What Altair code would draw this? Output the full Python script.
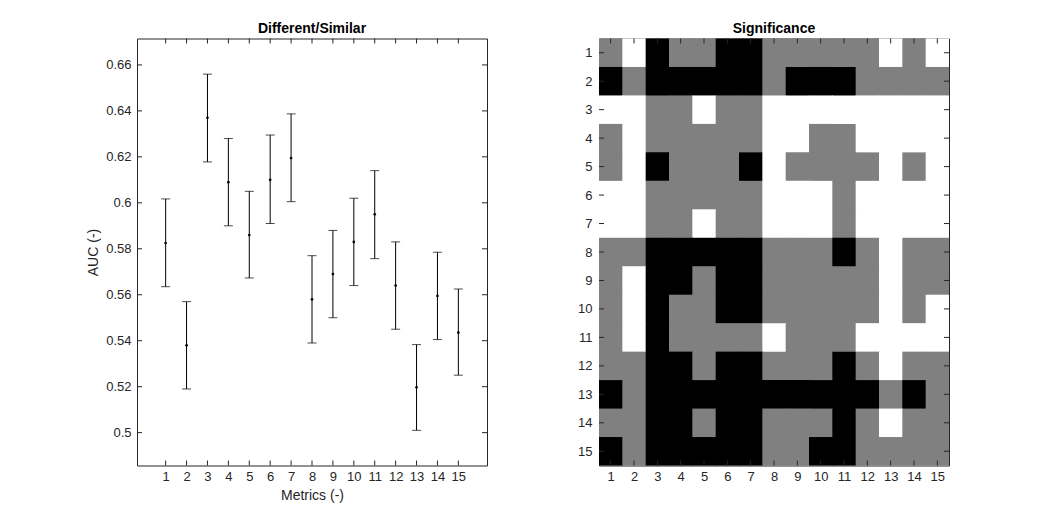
import altair as alt
import pandas as pd

# ---- data: left panel (AUC per metric, with error bars) ----
metrics = list(range(1, 16))
auc_mean = [0.5825, 0.538, 0.637, 0.609, 0.586, 0.610, 0.6195, 0.558,
            0.569, 0.583, 0.595, 0.564, 0.5197, 0.5595, 0.5435]
auc_low = [0.5635, 0.519, 0.6178, 0.590, 0.5673, 0.591, 0.6005, 0.539,
           0.550, 0.564, 0.5757, 0.545, 0.501, 0.5405, 0.525]
auc_high = [0.6017, 0.557, 0.656, 0.628, 0.605, 0.6295, 0.6387, 0.577,
            0.588, 0.602, 0.614, 0.583, 0.5383, 0.5785, 0.5625]
y_ticks = [0.5, 0.52, 0.54, 0.56, 0.58, 0.6, 0.62, 0.64, 0.66]

# ---- data: right panel (significance matrix, W=white, G=gray, B=black) ----
sig_rows = [
    "GWBGGBBGGGGGWGW",
    "BGBBBBBGBBBGGGG",
    "WWGGWGGWWWWWWWW",
    "GWGGGGGWWGGWWWW",
    "GWBGGGBWGGGGWGW",
    "WWGGGGGWWWGWWWW",
    "WWGGWGGWWWGWWWW",
    "GGBBBBBGGGBGWGG",
    "GWBBGBBGGGGGWGG",
    "GWBGGBBGGGGGWGW",
    "GWBGGGGWGGGWWWW",
    "GGBBGBBGGGBGWGG",
    "BGBBBBBBBBBBGBG",
    "GGBBGBBGGGBGWGG",
    "BGBBBBBGGBBGGGG",
]

W, H = 350, 427
FONT = "Liberation Sans"
AX = "#262626"

auc_df = pd.DataFrame({"metric": metrics, "mean": auc_mean, "low": auc_low, "high": auc_high})
xt_df = pd.DataFrame({"t": metrics})
yt_df = pd.DataFrame({"t": y_ticks})

xs = alt.Scale(domain=[-0.37, 16.37], nice=False, zero=False)
ys = alt.Scale(domain=[0.4857, 0.6715], nice=False, zero=False)

x_axis = alt.Axis(values=metrics, ticks=False, domain=False, grid=False, labelPadding=5,
                  title="Metrics (-)", titlePadding=5, labelFlush=False, labelOverlap=False)
y_axis = alt.Axis(values=y_ticks, ticks=False, domain=False, grid=False, labelPadding=6,
                  title="AUC (-)", titlePadding=5, format="~g", labelOverlap=False)

base = alt.Chart(auc_df)
bars = base.mark_rule(color="black", strokeWidth=1).encode(
    x=alt.X("metric:Q", scale=xs, axis=x_axis),
    y=alt.Y("low:Q", scale=ys, axis=y_axis),
    y2="high:Q",
)
cap_lo = base.mark_tick(orient="horizontal", size=9, thickness=1, color="black").encode(
    x=alt.X("metric:Q", scale=xs, axis=x_axis), y=alt.Y("low:Q", scale=ys, axis=y_axis))
cap_hi = base.mark_tick(orient="horizontal", size=9, thickness=1, color="black").encode(
    x=alt.X("metric:Q", scale=xs, axis=x_axis), y=alt.Y("high:Q", scale=ys, axis=y_axis))
pts = base.mark_point(filled=True, size=7, color="black", opacity=1).encode(
    x=alt.X("metric:Q", scale=xs, axis=x_axis), y=alt.Y("mean:Q", scale=ys, axis=y_axis))

tb = alt.Chart(xt_df).mark_rule(color=AX).encode(
    x=alt.X("t:Q", scale=xs, axis=x_axis), y=alt.value(H), y2=alt.value(H - 5))
tt = alt.Chart(xt_df).mark_rule(color=AX).encode(
    x=alt.X("t:Q", scale=xs, axis=x_axis), y=alt.value(0), y2=alt.value(5))
tl = alt.Chart(yt_df).mark_rule(color=AX).encode(
    y=alt.Y("t:Q", scale=ys, axis=y_axis), x=alt.value(0), x2=alt.value(5))
tr = alt.Chart(yt_df).mark_rule(color=AX).encode(
    y=alt.Y("t:Q", scale=ys, axis=y_axis), x=alt.value(W), x2=alt.value(W - 5))

left = alt.layer(bars, cap_lo, cap_hi, pts, tb, tt, tl, tr).properties(
    width=W, height=H,
    title=alt.TitleParams("Different/Similar", fontSize=14, fontWeight="bold", font=FONT,
                          color="black", offset=2.5),
)

# ---- heatmap ----
EPS = 0.03
recs = []
for r, row in enumerate(sig_rows, start=1):
    for c, v in enumerate(row, start=1):
        recs.append({"row": r, "col": c, "x0": c - 0.5, "x1": min(c + 0.5 + EPS, 15.5),
                     "y0": r - 0.5, "y1": min(r + 0.5 + EPS, 15.5), "level": v})
sig_df = pd.DataFrame(recs)
idx = list(range(1, 16))
idx_df = pd.DataFrame({"t": idx})

hxs = alt.Scale(domain=[0.5, 15.5], nice=False, zero=False)
hys = alt.Scale(domain=[0.5, 15.5], nice=False, zero=False, reverse=True)
lvl_scale = alt.Scale(domain=["W", "G", "B"], range=["#ffffff", "#808080", "#000000"])

hx_axis = alt.Axis(values=idx, ticks=False, domain=False, grid=False, labelPadding=5,
                   title=None, labelFlush=False, labelOverlap=False)
hy_axis = alt.Axis(values=idx, ticks=False, domain=False, grid=False, labelPadding=7,
                   title=None, labelFlush=False, labelOverlap=False)

cells = alt.Chart(sig_df).mark_rect(strokeWidth=0).encode(
    x=alt.X("x0:Q", scale=hxs, axis=hx_axis),
    x2="x1:Q",
    y=alt.Y("y0:Q", scale=hys, axis=hy_axis),
    y2="y1:Q",
    color=alt.Color("level:N", scale=lvl_scale, legend=None),
)
htb = alt.Chart(idx_df).mark_rule(color=AX).encode(
    x=alt.X("t:Q", scale=hxs, axis=hx_axis), y=alt.value(H), y2=alt.value(H - 5))
htt = alt.Chart(idx_df).mark_rule(color=AX).encode(
    x=alt.X("t:Q", scale=hxs, axis=hx_axis), y=alt.value(0), y2=alt.value(5))
htl = alt.Chart(idx_df).mark_rule(color=AX).encode(
    y=alt.Y("t:Q", scale=hys, axis=hy_axis), x=alt.value(0), x2=alt.value(5))
htr = alt.Chart(idx_df).mark_rule(color=AX).encode(
    y=alt.Y("t:Q", scale=hys, axis=hy_axis), x=alt.value(W), x2=alt.value(W - 5))

right = alt.layer(cells, htb, htt, htl, htr).properties(
    width=W, height=H,
    title=alt.TitleParams("Significance", fontSize=14, fontWeight="bold", font=FONT,
                          color="black", offset=2.5),
)

chart = alt.hconcat(left, right, spacing=89).properties(
    padding={"left": 78, "top": 12.5, "right": 5, "bottom": 5},
    background="white",
).configure_view(stroke=AX, strokeWidth=1).configure_axis(
    labelFont=FONT, labelFontSize=13, labelColor=AX, labelOverlap=False,
    titleFont=FONT, titleFontSize=14, titleColor=AX, titleFontWeight="normal",
)

chart.save("out.html", embed_options={"renderer": "svg", "actions": False})
